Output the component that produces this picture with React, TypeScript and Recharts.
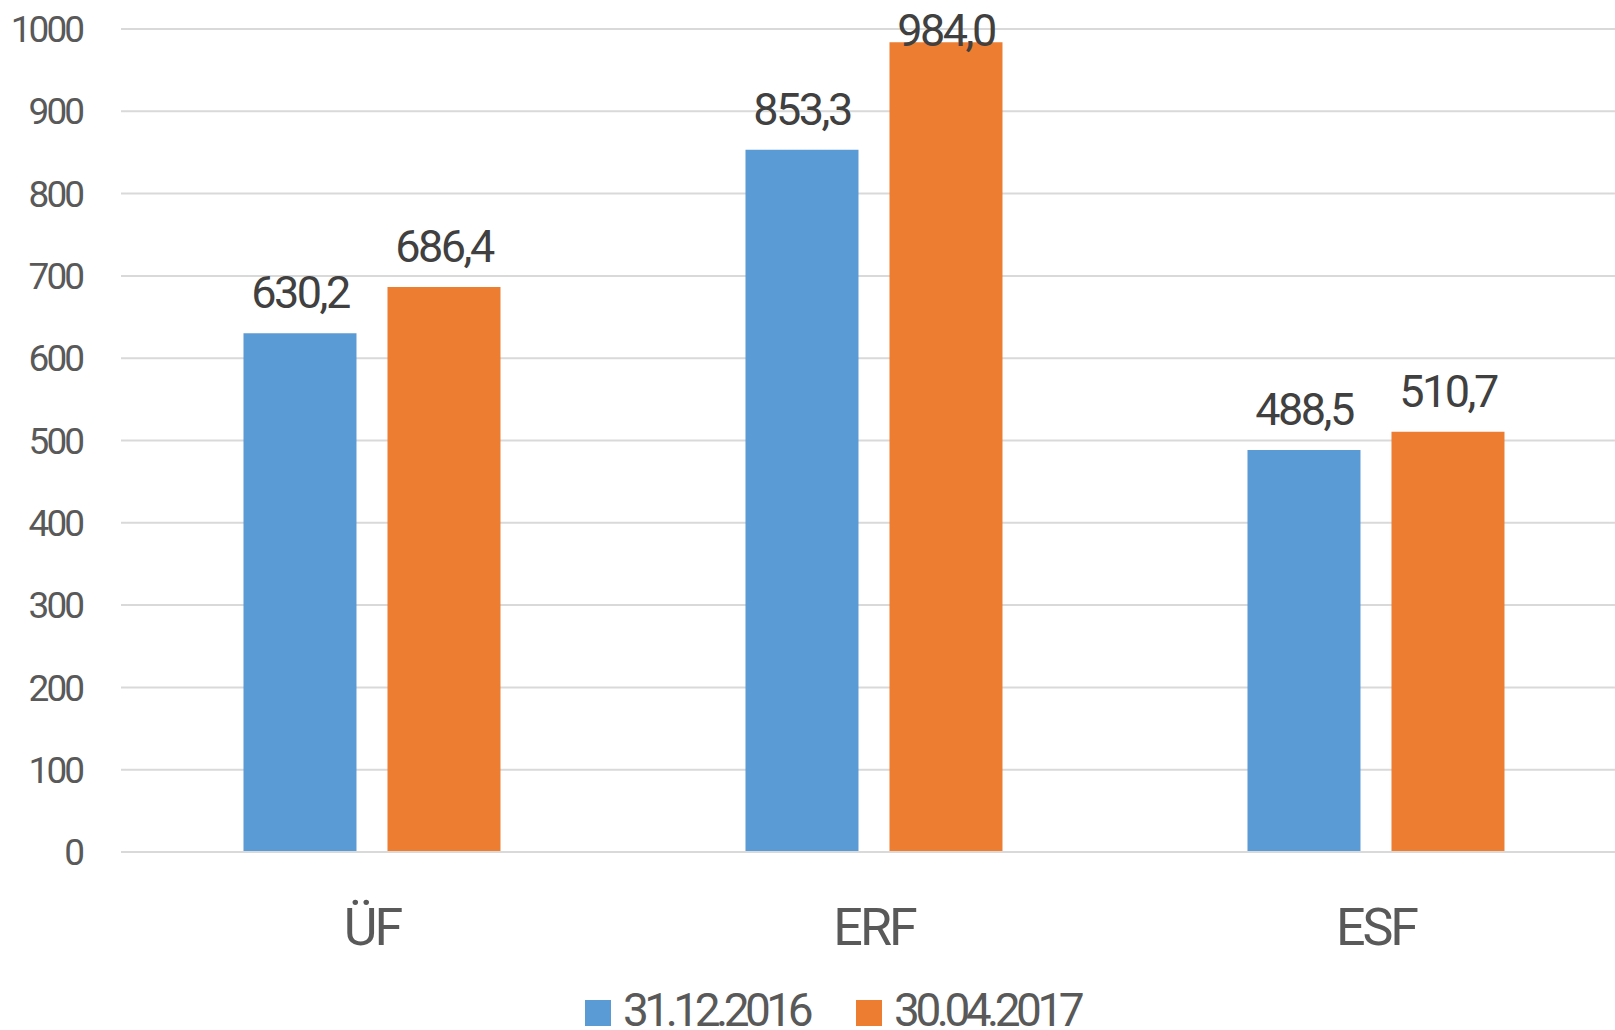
import { BarChart, Bar, XAxis, YAxis, CartesianGrid, Legend, LabelList } from "recharts";

const categories = ["ÜF", "ERF", "ESF"];
const dec2016 = [630.2, 853.3, 488.5];
const apr2017 = [686.4, 984.0, 510.7];
const yTicks = [0, 100, 200, 300, 400, 500, 600, 700, 800, 900, 1000];

const series = [
  { key: "d2016", name: "31.12.2016", color: "#5B9BD5" },
  { key: "d2017", name: "30.04.2017", color: "#ED7D31" },
];

const data = categories.map((c, i) => ({ cat: c, d2016: dec2016[i], d2017: apr2017[i] }));

const font = "Roboto, 'Noto Sans', sans-serif";
const fmt = (v: any) => Number(v).toFixed(1).replace(".", ",");

// value label above the bar, kept inside the top of the plot like Excel does
function ValueLabel(props: any) {
  const { x, y, width, value } = props;
  const ty = Math.max(Number(y) - 25, 46);
  return (
    <text
      x={Number(x) + Number(width) / 2}
      y={ty}
      textAnchor="middle"
      fontFamily={font}
      fontSize={45}
      fill="#404040"
      letterSpacing={-2.5}
    >
      {fmt(value)}
    </text>
  );
}

function LegendBox() {
  return (
    <div
      style={{
        display: "flex",
        justifyContent: "flex-start",
        alignItems: "center",
        gap: 47,
        fontFamily: font,
        fontSize: 46,
        letterSpacing: -4.5,
        color: "#595959",
        lineHeight: "34px",
        paddingLeft: 585,
        paddingTop: 23,
      }}
    >
      {series.map((s) => (
        <div key={s.key} style={{ display: "flex", alignItems: "center" }}>
          <span
            style={{ width: 26, height: 26, background: s.color, display: "inline-block", marginRight: 12, marginTop: 6 }}
          />
          <span>{s.name}</span>
        </div>
      ))}
    </div>
  );
}

export default function App() {
  return (
    <div style={{ position: "absolute", left: 0, top: 0, width: 1615, height: 1030, overflow: "hidden", background: "#fff" }}>
      <BarChart
        width={1627}
        height={1030}
        data={data}
        margin={{ top: 29, right: 0, bottom: 0, left: 0 }}
        barCategoryGap="24.4%"
        barGap={31}
      >
        <CartesianGrid vertical={false} stroke="#D9D9D9" strokeWidth={2} />
        <XAxis
          dataKey="cat"
          height={118}
          axisLine={{ stroke: "#D9D9D9", strokeWidth: 2 }}
          tickLine={false}
          tickSize={0}
          tickMargin={56}
          tick={{ fontFamily: font, fontSize: 52, fill: "#595959", letterSpacing: -3 }}
        />
        <YAxis
          width={121}
          domain={[0, 1000]}
          ticks={yTicks}
          axisLine={false}
          tickLine={false}
          tickSize={0}
          tickMargin={39}
          tick={{ fontFamily: font, fontSize: 37, fill: "#595959", letterSpacing: -3 }}
        />
        <Legend verticalAlign="bottom" height={60} content={() => <LegendBox />} />
        {series.map((s) => (
          <Bar key={s.key} dataKey={s.key} name={s.name} fill={s.color} isAnimationActive={false}>
            <LabelList dataKey={s.key} content={<ValueLabel />} />
          </Bar>
        ))}
      </BarChart>
    </div>
  );
}
